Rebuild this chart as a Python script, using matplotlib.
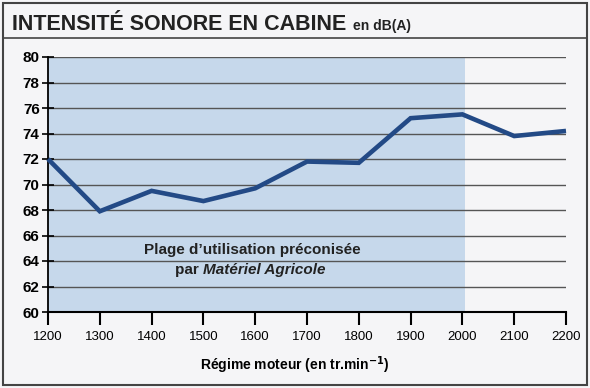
import matplotlib.pyplot as plt
from matplotlib import font_manager
from matplotlib.patches import Rectangle
from matplotlib.lines import Line2D

# data
regime = [1200, 1300, 1400, 1500, 1600, 1700, 1800, 1900, 2000, 2100, 2200]
intensite = [72.0, 67.9, 69.5, 68.7, 69.7, 71.8, 71.7, 75.2, 75.5, 73.8, 74.2]
plage = (1200, 2005)
y_ticks = list(range(60, 81, 2))
x_ticks = list(range(1200, 2201, 100))

plt.rcParams['font.family'] = ['Liberation Sans', 'DejaVu Sans']

# condensed face for the title if there is one
names = {f.name for f in font_manager.fontManager.ttflist}
if 'Liberation Sans Narrow' in names:
    title_font, title_size = 'Liberation Sans Narrow', 18
else:
    title_font, title_size = 'Liberation Sans', 15.5

bg = '#f5f5f7'
fig = plt.figure(figsize=(5.9, 3.88), dpi=100, facecolor=bg)
ax = fig.add_axes([48/590, 1-312/388, 518/590, 255/388])
ax.set_facecolor('none')

# recommended range shading
ax.axvspan(plage[0], plage[1], color='#c6d8eb', zorder=0, lw=0)

for yv in y_ticks[1:]:
    ax.axhline(yv, color='#555555', lw=1.0, zorder=1)

ax.plot(regime, intensite, color='#234a86', lw=3.3, zorder=3,
        solid_joinstyle='miter', solid_capstyle='butt', clip_on=False)

ax.set_xlim(1200, 2200)
ax.set_ylim(60, 80)
ax.set_xticks(x_ticks)
ax.set_yticks(y_ticks)
ax.tick_params(axis='y', direction='inout', length=8, width=1.2, labelsize=11, pad=2)
ax.tick_params(axis='x', direction='out', length=9, width=1.5, labelsize=9.5, pad=5)
for lab in ax.get_yticklabels():
    lab.set_fontweight('bold')
for s in ['top', 'right']:
    ax.spines[s].set_visible(False)
ax.spines['left'].set_linewidth(1.3)
ax.spines['bottom'].set_linewidth(1.5)

ax.set_xlabel('Régime moteur (en tr.min$^{\\mathbf{-1}}$)', fontsize=10,
              fontweight='bold')
ax.xaxis.set_label_coords(0.477, -0.165)

# annotation inside shaded area
ax.text(1594, 64.9, 'Plage d\u2019utilisation préconisée', ha='center', va='center',
        fontsize=11, fontweight='bold', color='#222222')
ax.text(1500, 63.3, 'par ', ha='right', va='center',
        fontsize=11, fontweight='bold', color='#222222')
ax.text(1500, 63.3, 'Matériel Agricole', ha='left', va='center',
        fontsize=11, fontweight='bold', style='italic', color='#222222')

# frame and title band
fig.patches.append(Rectangle((3/590, 3/388), 584/590, 382/388, transform=fig.transFigure,
                             fill=False, ec='#444444', lw=1.5))
fig.lines.append(Line2D([3/590, 587/590], [1-38/388, 1-38/388], transform=fig.transFigure,
                        color='#444444', lw=1.2))
fig.text(12/590, 1-30/388, 'INTENSITÉ SONORE EN CABINE', fontsize=title_size,
         fontweight='bold', color='#222222', va='baseline', family=title_font)
fig.text(353/590, 1-30/388, 'en dB(A)', fontsize=10,
         fontweight='bold', color='#222222', va='baseline')

fig.savefig('out.png', dpi=100, facecolor=bg)
